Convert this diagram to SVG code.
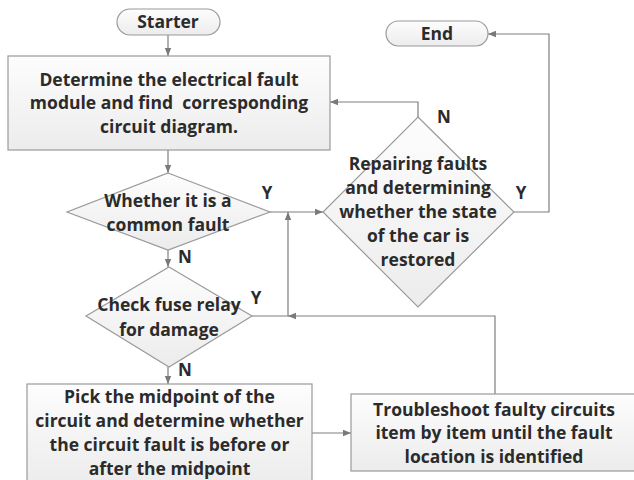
<svg xmlns="http://www.w3.org/2000/svg" width="634" height="480" viewBox="0 0 634 480">
<defs>
<linearGradient id="g" x1="0" y1="0" x2="0" y2="1">
<stop offset="0" stop-color="#fdfdfd"/>
<stop offset="1" stop-color="#ececec"/>
</linearGradient>
<marker id="a" viewBox="0 0 10 10" refX="10" refY="5" markerWidth="8" markerHeight="8" markerUnits="userSpaceOnUse" orient="auto">
<path d="M0,1 L10,5 L0,9 z" fill="#7a7a7a"/>
</marker>
<style>
.s{fill:url(#g);stroke:#9a9a9a;stroke-width:1.2}
.t{font-family:"Open Sans","Liberation Sans",sans-serif;font-weight:bold;font-size:17.5px;fill:#2b2b2b;text-anchor:middle;white-space:pre}
.l{font-family:"Open Sans","Liberation Sans",sans-serif;font-weight:bold;font-size:17px;fill:#2b2b2b;text-anchor:middle}
.c{fill:none;stroke:#7f7f7f;stroke-width:1.2}
</style>
</defs>
<rect width="634" height="480" fill="#fff"/>
<g id="connectors">
<path class="c" d="M168,35 V56" marker-end="url(#a)"/>
<path class="c" d="M168,150 V173" marker-end="url(#a)"/>
<path class="c" d="M168,249 V267" marker-end="url(#a)"/>
<path class="c" d="M168,367 V384" marker-end="url(#a)"/>
<path class="c" d="M270,212 H323" marker-end="url(#a)"/>
<path class="c" d="M252,316 H288 V212" marker-end="url(#a)"/>
<path class="c" d="M495,394 V316 H288" marker-end="url(#a)"/>
<path class="c" d="M418,117 V102 H330" marker-end="url(#a)"/>
<path class="c" d="M514,212 H549 V34 H488" marker-end="url(#a)"/>
<path class="c" d="M312,433 H351" marker-end="url(#a)"/>
<text class="l" x="267" y="199">Y</text>
<text class="l" x="185" y="263">N</text>
<text class="l" x="256" y="304">Y</text>
<text class="l" x="185" y="376">N</text>
<text class="l" x="444" y="123">N</text>
<text class="l" x="521" y="199">Y</text>
</g>
<g id="starter">
<rect class="s" x="117" y="9" width="103" height="26" rx="13"/>
<text class="t" x="168" y="28">Starter</text>
</g>
<g id="end">
<rect class="s" x="386" y="21" width="102" height="25" rx="12.5"/>
<text class="t" x="437" y="40">End</text>
</g>
<g id="determine">
<rect class="s" x="8" y="56" width="322" height="94"/>
<text class="t" x="169" y="86">Determine the electrical fault</text>
<text class="t" x="169" y="109" xml:space="preserve">module and find  corresponding</text>
<text class="t" x="169" y="133">circuit diagram.</text>
</g>
<g id="common">
<path class="s" d="M168,173 L270,212 L168,250 L67,212 Z"/>
<text class="t" x="168" y="207">Whether it is a</text>
<text class="t" x="168" y="231">common fault</text>
</g>
<g id="repair">
<path class="s" d="M418,117 L514,212 L418,307 L323,212 Z"/>
<text class="t" x="418" y="170">Repairing faults</text>
<text class="t" x="418" y="194">and determining</text>
<text class="t" x="418" y="218">whether the state</text>
<text class="t" x="418" y="242">of the car is</text>
<text class="t" x="418" y="266">restored</text>
</g>
<g id="fuse">
<path class="s" d="M169,267 L252,316 L169,367 L86,316 Z"/>
<text class="t" x="169" y="311">Check fuse relay</text>
<text class="t" x="169" y="336">for damage</text>
</g>
<g id="midpoint">
<rect class="s" x="27" y="384" width="285" height="100"/>
<text class="t" x="169.5" y="403">Pick the midpoint of the</text>
<text class="t" x="169.5" y="427">circuit and determine whether</text>
<text class="t" x="169.5" y="451">the circuit fault is before or</text>
<text class="t" x="169.5" y="475">after the midpoint</text>
</g>
<g id="troubleshoot">
<rect class="s" x="351" y="394" width="290" height="77"/>
<text class="t" x="494" y="416">Troubleshoot faulty circuits</text>
<text class="t" x="494" y="439">item by item until the fault</text>
<text class="t" x="494" y="463">location is identified</text>
</g>
</svg>
